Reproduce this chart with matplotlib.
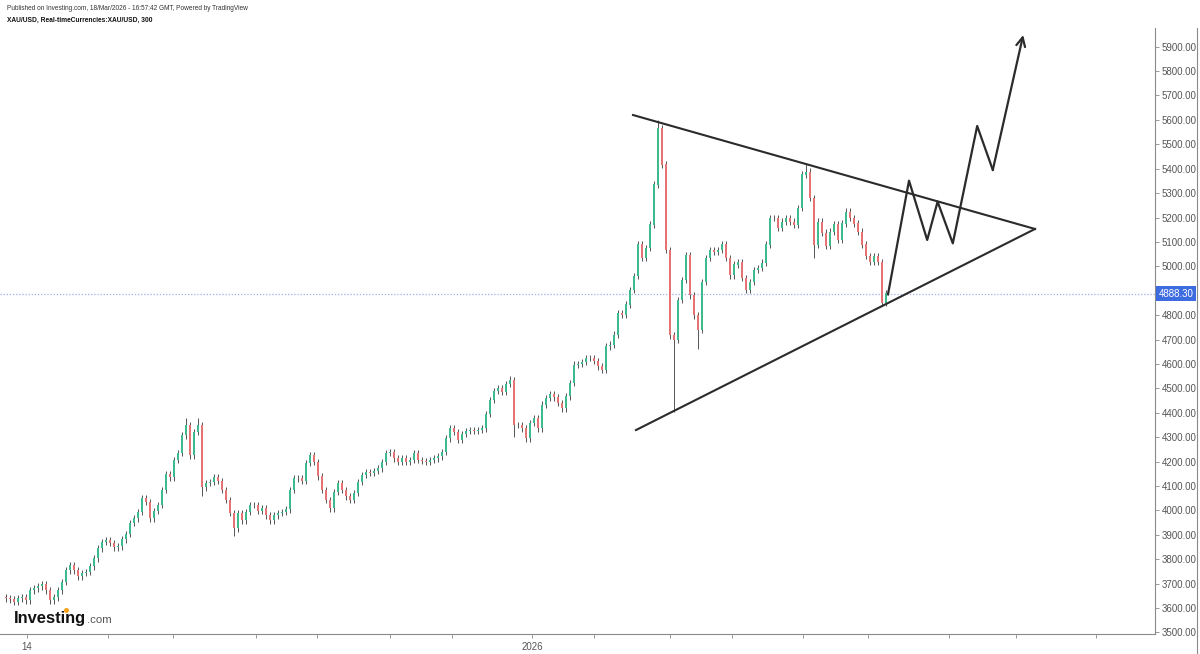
import matplotlib
matplotlib.use("Agg")
import matplotlib.pyplot as plt
from matplotlib.lines import Line2D
from matplotlib.transforms import blended_transform_factory

plt.rcParams['font.family'] = ['Liberation Sans', 'DejaVu Sans']

# XAU/USD 300-minute candles, closes (open = previous close)
closes = [3640, 3636, 3624, 3640, 3644, 3632, 3673, 3681, 3689, 3698, 3673,
          3632, 3644, 3673, 3706, 3755, 3775, 3755, 3730, 3743, 3747,
          3771, 3804, 3845, 3870, 3878, 3866, 3849, 3853, 3882, 3903,
          3948, 3968, 3993, 4050, 4034, 3968, 3997, 4022, 4083, 4149,
          4136, 4206, 4235, 4308, 4350, 4226, 4321, 4350, 4095, 4112,
          4116, 4136, 4120, 4083, 4042, 3989, 3927, 3989, 3960, 3993,
          4022, 4022, 3997, 4009, 3980, 3960, 3980, 3989, 3993, 4005,
          4083, 4132, 4132, 4120, 4194, 4226, 4198, 4140, 4083, 4042,
          4009, 4075, 4112, 4083, 4058, 4042, 4071, 4116, 4145, 4157,
          4153, 4161, 4173, 4198, 4235, 4239, 4214, 4198, 4214, 4198,
          4206, 4235, 4206, 4202, 4198, 4206, 4214, 4222, 4239, 4296,
          4337, 4321, 4288, 4313, 4325, 4329, 4325, 4329, 4337, 4395,
          4452, 4489, 4501, 4485, 4518, 4534, 4350, 4350, 4337, 4296,
          4358, 4378, 4337, 4432, 4460, 4477, 4464, 4440, 4419, 4468,
          4522, 4596, 4600, 4608, 4624, 4624, 4612, 4591, 4575, 4673,
          4678, 4719, 4809, 4801, 4842, 4903, 4960, 5088, 5034, 5075,
          5170, 5334, 5567, 5416, 5067, 4718, 4698, 4862, 4944, 5046,
          4882, 4800, 4739, 4936, 5034, 5067, 5059, 5067, 5088, 5034,
          4964, 5006, 5018, 4952, 4903, 4936, 4985, 4993, 5014, 5088,
          5198, 5198, 5157, 5182, 5198, 5182, 5170, 5239, 5375, 5387,
          5280, 5088, 5182, 5137, 5083, 5141, 5170, 5108, 5174, 5223,
          5198, 5174, 5141, 5088, 5042, 5018, 5042, 5018, 4850, 4888.3]
first_open = 3645
# notable wick extremes (candle index -> price)
wick_highs = {45: 4380, 48: 4378, 126: 4550, 142: 4610, 163: 5600, 200: 5425}
wick_lows = {49: 4060, 57: 3895, 127: 4300, 167: 4405, 173: 4660, 202: 5035}
wick_pad = 14

last_price = 4888.30

# drawn pattern: (candle index, price)
upper_line = [(156.75, 5620), (257.25, 5153)]
lower_line = [(157.5, 4329), (257.25, 5153)]
projection = [(220.5, 4885), (225.75, 5351), (230.3, 5108), (232.9, 5265),
              (236.7, 5094), (242.8, 5575), (246.7, 5395), (254.3, 5948)]

xtick_pos = [5.2, 25.5, 41.75, 62.5, 77.75, 96, 111.5, 131.5, 147, 166,
             181.5, 199.25, 215.5, 235.75, 252.5, 272.5]
xtick_labels = ['14', '', '', '', '', '', '', '2026', '', '', '', '', '', '', '', '']
yticks = list(range(3500, 6000, 100))
# 4900 label is covered by the last-price tag
ytick_labels = ['' if v == 4900 else f'{v:.2f}' for v in yticks]

opens = [first_open] + closes[:-1]
highs = [max(o, c) + wick_pad for o, c in zip(opens, closes)]
lows = [min(o, c) - wick_pad for o, c in zip(opens, closes)]
for k, v in wick_highs.items():
    highs[k] = v
for k, v in wick_lows.items():
    lows[k] = v

fig = plt.figure(figsize=(12, 6.54), dpi=100)
ax = fig.add_axes([0, 20 / 654, 1155 / 1200, 606 / 654])

up_col = '#3dbb8e'
dn_col = '#e57373'
idx = list(range(len(closes)))
cols = [up_col if c >= o else dn_col for o, c in zip(opens, closes)]
ax.vlines(idx, lows, highs, color='#3a3a3a', lw=0.6, zorder=2)
ax.bar(idx, [abs(c - o) + 1.5 for o, c in zip(opens, closes)],
       bottom=[min(o, c) for o, c in zip(opens, closes)],
       width=0.7, color=cols, edgecolor='none', zorder=3)

# last price line and label
ax.axhline(last_price, color='#a4aee8', lw=0.9, ls=(0, (1, 1.5)), zorder=1)
tr = blended_transform_factory(ax.transAxes, ax.transData)
ax.text(1.003, last_price, f'{last_price:.2f}', transform=tr, ha='left', va='center',
        fontsize=7, color='white',
        bbox=dict(facecolor='#3d6be0', edgecolor='none', boxstyle='square,pad=0.25'))

# triangle + projected path
lc = '#2b2b2b'
ax.plot(*zip(*upper_line), color=lc, lw=1.5, zorder=4)
ax.plot(*zip(*lower_line), color=lc, lw=1.5, zorder=4)
ax.plot(*zip(*projection[:-1]), color=lc, lw=1.6, zorder=4)
ax.annotate('', xy=projection[-1], xytext=projection[-2],
            arrowprops=dict(arrowstyle='->', color=lc, lw=1.6, mutation_scale=16,
                            shrinkA=0, shrinkB=0), zorder=4)

ax.set_xlim(-1.5, 287.25)
ax.set_ylim(3493.2, 5976.6)

for s in ['left', 'top']:
    ax.spines[s].set_visible(False)
for s in ['right', 'bottom']:
    ax.spines[s].set_color('#8a8a8a')
    ax.spines[s].set_linewidth(0.8)

ax.yaxis.tick_right()
ax.set_yticks(yticks)
ax.set_yticklabels(ytick_labels)
ax.set_xticks(xtick_pos)
ax.set_xticklabels(xtick_labels)
ax.tick_params(axis='both', length=3, width=0.6, color='#8a8a8a',
               labelsize=7, labelcolor='#555555', pad=2)
ax.tick_params(axis='x', pad=3)

# far right border
fig.add_artist(Line2D([1197 / 1200, 1197 / 1200], [0, 1 - 28 / 654],
                      color='#8a8a8a', lw=0.8))

# header
fig.text(7 / 1200, 1 - 8 / 654,
         'Published on Investing.com, 18/Mar/2026 - 16:57:42 GMT, Powered by TradingView',
         fontsize=4.7, color='#333333', va='center', ha='left')
fig.text(7 / 1200, 1 - 20 / 654, 'XAU/USD, Real-timeCurrencies:XAU/USD, 300',
         fontsize=4.8, fontweight='bold', color='#111111', va='center', ha='left')

# watermark logo
fig.text(14 / 1200, 1 - 618 / 654, 'Investing', fontsize=11.9, fontweight='bold',
         color='#111111', va='center', ha='left')
fig.text(87 / 1200, 1 - 620 / 654, '.com', fontsize=8.2, color='#555555',
         va='center', ha='left')
fig.add_artist(Line2D([65.5 / 1200], [1 - 609.5 / 654], marker='o', markersize=2.6,
                      color='#f7a21b', lw=0))

fig.savefig('out.png', dpi=100, facecolor='white')
